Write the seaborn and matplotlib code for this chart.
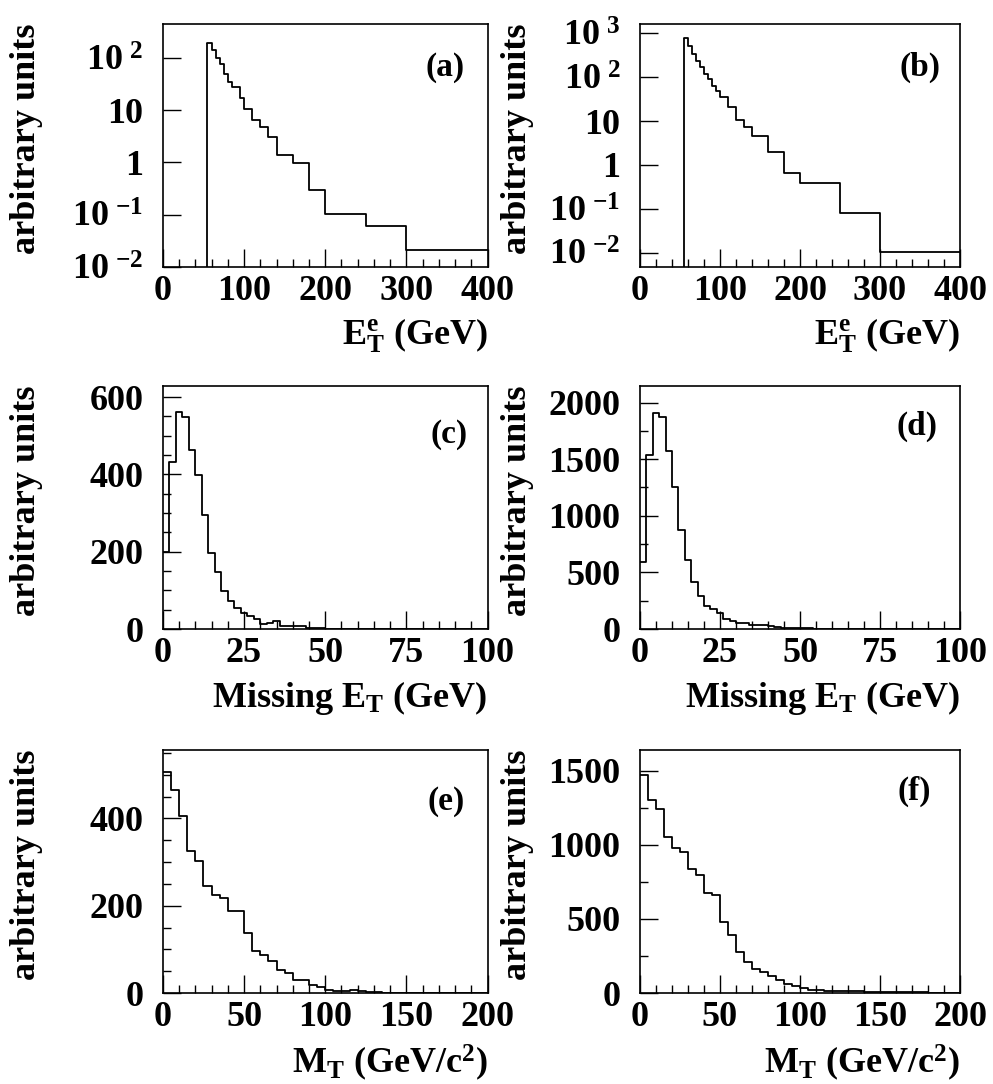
import numpy as np
import matplotlib
matplotlib.use("Agg")
import matplotlib.pyplot as plt
import seaborn as sns
from matplotlib.ticker import MultipleLocator, NullFormatter, LogLocator

# electron E_T histograms (a), (b) - same binning, log scale
et_edges = [55, 60, 65, 70, 75, 80, 85, 90, 95, 100, 110, 120, 130, 140,
            160, 180, 200, 250, 300, 400]
et_a = [195, 140, 98, 76, 49, 34, 27.5, 27.5, 17, 10.7, 6.6, 4.8, 3.1,
        1.38, 0.99, 0.30, 0.105, 0.060, 0.021]
et_b = [785, 525, 340, 230, 170, 121, 92, 65, 48, 36, 21.5, 10.7, 7.2,
        4.7, 2.0, 0.64, 0.38, 0.079, 0.0101]

# missing E_T histograms (c), (d) - 2 GeV bins
met_edges = np.arange(0, 101, 2)
met_c = [198, 431, 561, 548, 463, 398, 294, 196, 147, 98,
         72, 55, 42, 35, 26, 13, 16, 20, 7, 7,
         9, 7, 3, 2, 2, 1, 1, 1, 0.5, 0.5,
         0, 0, 0, 0, 0, 0, 0, 0, 0, 0,
         0, 0, 0, 0, 0, 0, 0, 0, 0, 0]
met_d = [594, 1538, 1912, 1874, 1568, 1250, 874, 609, 412, 294,
         200, 176, 138, 88, 68, 56, 50, 38, 38, 38,
         26, 15, 10, 8, 7, 6, 5, 4, 3, 3,
         3, 2, 2, 2, 2, 1, 1, 1, 2, 1,
         1, 1, 1, 1, 0, 1, 0, 0, 1, 0]

# transverse mass histograms (e), (f) - 5 GeV bins
mt_edges = np.arange(0, 201, 5)
mt_e = [506, 464, 405, 326, 303, 244, 224, 218, 188, 188,
        138, 96, 86, 73, 52, 46, 29, 29, 18, 14,
        8, 4, 4, 6, 4, 2, 2, 1, 1, 1,
        1, 1, 0, 0, 1, 0, 0, 1, 0, 0]
mt_f = [1468, 1304, 1243, 1052, 977, 950, 838, 793, 676, 658,
        477, 392, 279, 212, 162, 140, 117, 90, 61, 45,
        32, 23, 20, 16, 15, 14, 12, 12, 10, 9,
        8, 7, 6, 5, 5, 4, 3, 3, 2, 2]

sns.set_style("ticks")
plt.rcParams["font.family"] = ["Liberation Serif", "DejaVu Serif"]
plt.rcParams["font.weight"] = "bold"
plt.rcParams["axes.labelweight"] = "bold"
plt.rcParams["mathtext.fontset"] = "custom"
plt.rcParams["mathtext.rm"] = "Liberation Serif:bold"
plt.rcParams["mathtext.bf"] = "Liberation Serif:bold"
plt.rcParams["mathtext.it"] = "Liberation Serif:bold"
for key in ["text.color", "axes.labelcolor", "xtick.color", "ytick.color",
            "axes.edgecolor"]:
    plt.rcParams[key] = "black"

FS = 26

et_label = r"$\mathbf{E}_{\mathbf{T}}^{\mathbf{e}}$ (GeV)"
met_label = r"Missing $\mathbf{E}_{\mathbf{T}}$ (GeV)"
mt_label = r"$\mathbf{M}_{\mathbf{T}}$ (GeV/c$^{\mathbf{2}}$)"


def log_label(p):
    if p == 0:
        return "1"
    if p == 1:
        return "10"
    return r"$\mathbf{10}^{\ \mathbf{%d}}$" % p


def draw_panel(rect, edges, values, tag, xlabel, xlim, ylim, xmajor, xminor,
               ymajor=None, yminor=None, log=False, tag_xy=(0.935, 0.82),
               ylab_x=-0.37):
    ax = fig.add_axes(rect)
    sns.histplot(x=list(edges[:-1]), weights=values, bins=list(edges),
                 element="step", fill=False, color="black", linewidth=1.3,
                 ax=ax)
    if log:
        ax.set_yscale("log")
        # ROOT draws the first bin edge down to the frame
        ax.vlines(edges[0], ylim[0], values[0], color="black", lw=1.3)
    ax.set_xlim(*xlim)
    ax.set_ylim(*ylim)

    ax.set_xticks(np.arange(xlim[0], xlim[1] + 1, xmajor))
    ax.set_xticklabels([str(int(t)) for t in ax.get_xticks()])
    ax.xaxis.set_minor_locator(MultipleLocator(xminor))
    if log:
        pows = [p for p in range(-3, 4) if ylim[0] <= 10.0 ** p <= ylim[1]]
        ax.set_yticks([10.0 ** p for p in pows])
        ax.set_yticklabels([log_label(p) for p in pows])
        ax.yaxis.set_minor_locator(LogLocator(base=10, subs=np.arange(2, 10)))
        ax.yaxis.set_minor_formatter(NullFormatter())
    else:
        ax.set_yticks(np.arange(0, ylim[1], ymajor))
        ax.set_yticklabels([str(int(t)) for t in ax.get_yticks()])
        ax.yaxis.set_minor_locator(MultipleLocator(yminor))

    ax.tick_params(which="both", direction="in", top=False, right=False,
                   labelsize=FS, width=1.0)
    ax.tick_params(axis="x", which="major", length=13, pad=6)
    ax.tick_params(axis="x", which="minor", length=6)
    ax.tick_params(axis="y", which="major", length=13, pad=14)
    ax.tick_params(axis="y", which="minor", length=6)
    for sp in ax.spines.values():
        sp.set_linewidth(1.2)
        sp.set_visible(True)

    ax.set_xlabel(xlabel, fontsize=FS, loc="right", labelpad=6)
    ax.set_ylabel("arbitrary units", fontsize=FS)
    ax.yaxis.set_label_coords(ylab_x, 0.53)
    ax.text(tag_xy[0], tag_xy[1], tag, transform=ax.transAxes, ha="right",
            va="center", fontsize=24, fontweight="bold")
    return ax


fig = plt.figure(figsize=(9.93, 10.84), dpi=100)

left_x, right_x = 0.164, 0.6445
w_left, w_right = 0.327, 0.3223
rows = [0.7537, 0.4197, 0.0839]
h = 0.224

draw_panel([left_x, rows[0], w_left, h], et_edges, et_a, "(a)", et_label,
           (0, 400), (0.01, 440), 100, 20, log=True, tag_xy=(0.93, 0.82))
draw_panel([right_x, rows[0], w_right, h], et_edges, et_b, "(b)", et_label,
           (0, 400), (0.0047, 1630), 100, 20, log=True, tag_xy=(0.94, 0.82),
           ylab_x=-0.33)
draw_panel([left_x, rows[1], w_left, h], met_edges, met_c, "(c)", met_label,
           (0, 100), (0, 628), 25, 5, 200, 50, tag_xy=(0.94, 0.80))
draw_panel([right_x, rows[1], w_right, h], met_edges, met_d, "(d)", met_label,
           (0, 100), (0, 2144), 25, 5, 500, 250, tag_xy=(0.93, 0.835),
           ylab_x=-0.33)
draw_panel([left_x, rows[2], w_left, h], mt_edges, mt_e, "(e)", mt_label,
           (0, 200), (0, 556), 50, 10, 200, 50, tag_xy=(0.93, 0.79))
draw_panel([right_x, rows[2], w_right, h], mt_edges, mt_f, "(f)", mt_label,
           (0, 200), (0, 1637), 50, 10, 500, 250, tag_xy=(0.91, 0.83),
           ylab_x=-0.33)

fig.savefig("out.png", dpi=100)
